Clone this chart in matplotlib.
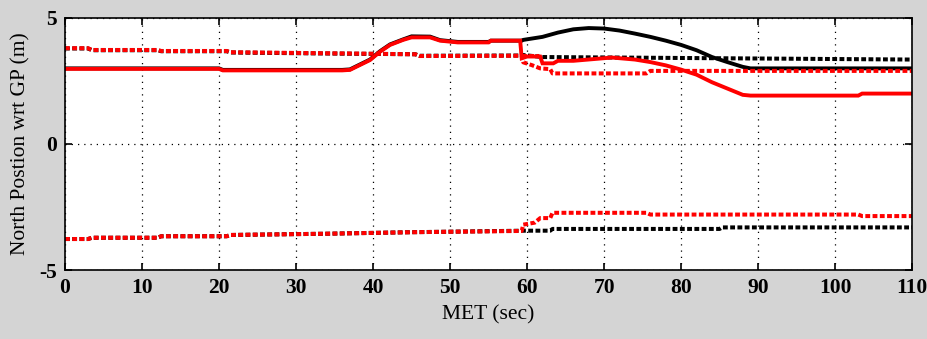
import numpy as np
import matplotlib.pyplot as plt

# MET (sec) breakpoints and north position (m) for each trace
red_x = [0, 20, 20.5, 36, 37, 39.6, 40.9, 42.2, 43.9, 45, 47.4, 48.7, 51, 55, 55.3, 59.1,
         59.3, 60, 61.7, 62, 63.4, 64, 66, 71, 74, 76, 78, 80, 82, 84, 86, 88, 89, 103, 103.5, 110]
red_y = [2.98, 2.98, 2.92, 2.92, 2.94, 3.33, 3.66, 3.93, 4.13, 4.23, 4.23, 4.1, 4.03, 4.03, 4.1, 4.1,
         3.4, 3.47, 3.47, 3.2, 3.2, 3.3, 3.3, 3.43, 3.35, 3.25, 3.12, 2.95, 2.75, 2.45, 2.2, 1.95, 1.92, 1.92, 2.0, 2.0]

blk_x = [0, 20, 20.5, 36, 37, 39.6, 40.9, 42.2, 43.9, 45, 47.4, 48.7, 51, 55, 55.3, 59.3,
         59.5, 62, 64, 66, 68, 70, 72, 74, 76, 78, 80, 82, 84, 86, 88, 89, 110]
blk_y = [3.0, 3.0, 2.94, 2.94, 2.96, 3.35, 3.68, 3.95, 4.15, 4.27, 4.26, 4.12, 4.05, 4.05, 4.1, 4.1,
         4.13, 4.25, 4.42, 4.55, 4.6, 4.58, 4.5, 4.38, 4.25, 4.1, 3.93, 3.72, 3.45, 3.25, 3.06, 3.0, 3.0]

# upper / lower bounds (dotted)
red_up_x = [0, 3, 3.5, 12, 12.5, 21, 21.5, 34, 45.5, 46, 59.3, 59.5, 60.6, 61.7, 63, 63.3, 75.5, 76, 110]
red_up_y = [3.8, 3.8, 3.73, 3.73, 3.69, 3.69, 3.64, 3.6, 3.56, 3.49, 3.5, 3.24, 3.13, 3.0, 2.97, 2.8, 2.8, 2.9, 2.9]
red_up2_x = [59.3, 61.5]
red_up2_y = [3.5, 3.5]

red_lo_x = [0, 3, 3.5, 12, 12.5, 21, 21.5, 34, 45, 59.3, 59.5, 61, 61.7, 63, 63.3, 75.5, 76, 103, 103.5, 110]
red_lo_y = [-3.77, -3.77, -3.72, -3.72, -3.66, -3.66, -3.61, -3.56, -3.5, -3.45, -3.2, -3.12, -2.94, -2.94, -2.73, -2.73, -2.8, -2.8, -2.86, -2.86]

blk_up_x = [0, 3, 3.5, 12, 12.5, 21, 21.5, 34, 45.5, 46, 59.3, 59.5, 62, 110]
blk_up_y = [3.79, 3.79, 3.72, 3.72, 3.68, 3.68, 3.63, 3.59, 3.56, 3.5, 3.51, 3.53, 3.45, 3.35]
blk_lo_x = [0, 3, 3.5, 12, 12.5, 21, 21.5, 34, 45, 59.5, 63, 63.3, 85, 85.3, 110]
blk_lo_y = [-3.77, -3.77, -3.72, -3.72, -3.66, -3.66, -3.61, -3.56, -3.5, -3.44, -3.44, -3.37, -3.37, -3.31, -3.31]

x_ticks = np.arange(0, 111, 10)
y_ticks = [-5, 0, 5]

plt.rcParams['font.family'] = ['Liberation Serif', 'DejaVu Serif']
plt.rcParams['axes.unicode_minus'] = False

fig = plt.figure(figsize=(9.28, 3.39), dpi=100, facecolor='#d4d4d4')
ax = fig.add_axes([0.070, 0.2035, 0.913, 0.7435])
ax.set_facecolor('white')

dot = dict(linestyle=(0, (1.2, 0.6)), linewidth=2.9, dash_capstyle='butt')
ax.plot(blk_up_x, blk_up_y, color='black', **dot)
ax.plot(blk_lo_x, blk_lo_y, color='black', **dot)
ax.plot(blk_x, blk_y, color='black', linewidth=2.8, solid_joinstyle='miter')
ax.plot(red_up_x, red_up_y, color='#ff0000', **dot)
ax.plot(red_up2_x, red_up2_y, color='#ff0000', **dot)
ax.plot(red_lo_x, red_lo_y, color='#ff0000', **dot)
ax.plot(red_x, red_y, color='#ff0000', linewidth=2.8, solid_joinstyle='miter')

ax.set_xlim(0, 110)
ax.set_ylim(-5, 5)
ax.set_xticks(x_ticks)
ax.set_yticks(y_ticks)
ax.grid(True, color='black', linestyle=(0, (1, 4)), linewidth=0.9)
ax.tick_params(direction='in', length=5, width=1.2, top=True, right=True,
               labelsize=15.5, pad=6)
for lab in ax.get_xticklabels() + ax.get_yticklabels():
    lab.set_fontweight('bold')
for sp in ax.spines.values():
    sp.set_linewidth(1.2)

ax.set_xlabel('MET (sec)', fontsize=15.5, labelpad=5)
ax.set_ylabel('North Postion wrt GP (m)', fontsize=15.5, labelpad=6)

fig.savefig('out.png', dpi=100, facecolor=fig.get_facecolor())
